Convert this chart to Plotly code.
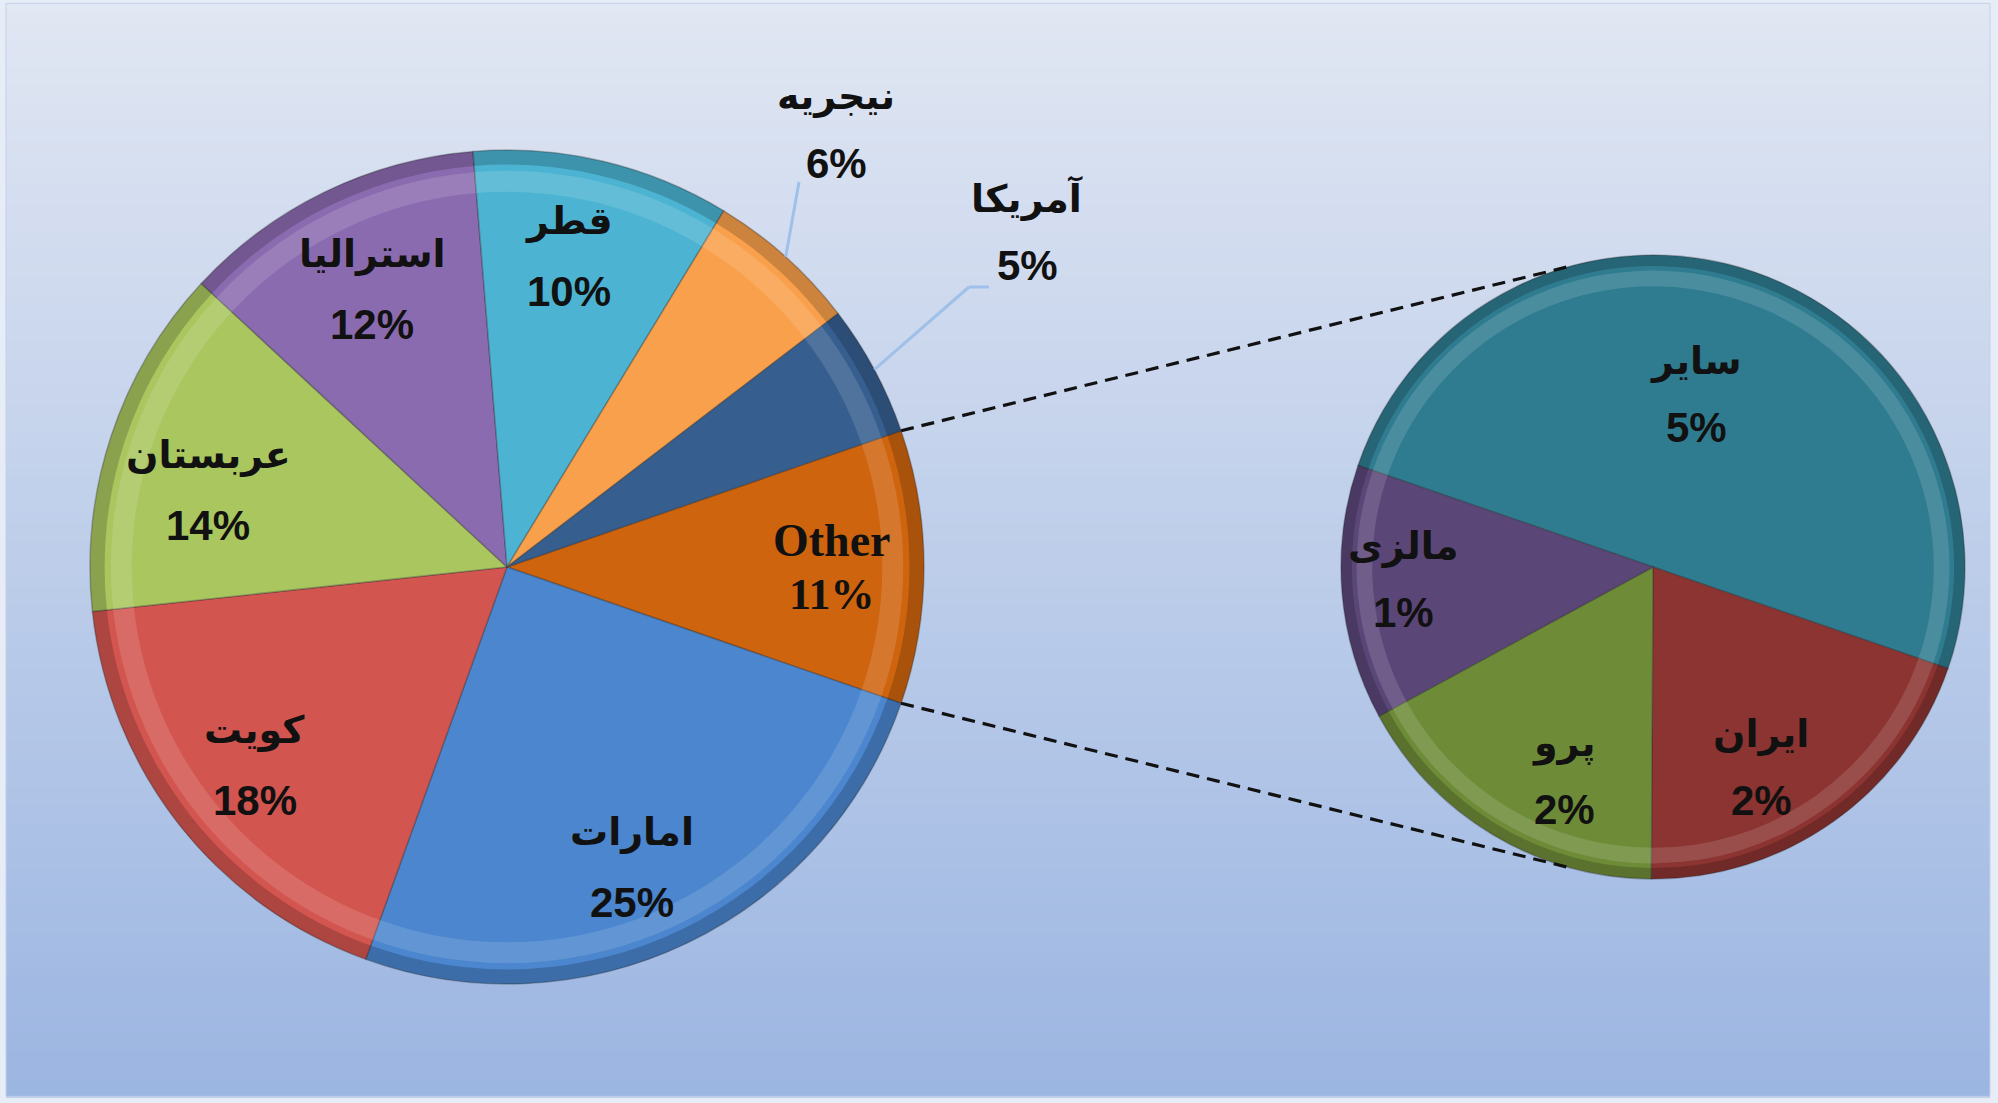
import math
import plotly.graph_objects as go

W, H = 1998, 1103

# 主饼图数据（顺时针，从 Other 开始）
main_labels = ["Other", "امارات", "کویت", "عربستان", "استرالیا", "قطر", "نیجریه", "آمریکا"]
main_values_rest = [25.2, 17.8, 13.6, 11.8, 10.0, 5.9, 5.1]
main_colors = ["#cf640f", "#4b86ce", "#d35550", "#a9c65f", "#8b6bb0",
               "#4cb4d2", "#f8a04b", "#365f8f"]

# 子饼图数据（Other 的拆分）
sub_labels = ["سایر", "ایران", "پرو", "مالزی"]
sub_values = [5.3, 2.1, 1.8, 1.4]
sub_colors = ["#2f7c90", "#8c3431", "#6e8c38", "#5b4678"]

main_values = [sum(sub_values)] + main_values_rest
total = sum(main_values)

# 几何参数（像素）
L_CX, L_CY, L_R = 507, 567, 417
R_CX, R_CY, R_R = 1653, 567, 312
SUB_ROT = 289

FONT_FA = "DejaVu Sans"
FONT_NUM = "Liberation Sans"

# 标签位置微调：(半径比例, 角度偏移)
main_lab_pos = {"Other": (0.78, 0), "امارات": (0.78, 3), "کویت": (0.77, 0),
                "عربستان": (0.74, -4), "استرالیا": (0.74, 0), "قطر": (0.76, -2)}
sub_lab_pos = [(0.57, -5), (0.73, 7), (0.73, -8), (0.8, 2)]


def px2paper(x, y):
    return x / W, 1 - y / H


def domain(cx, cy, r):
    return dict(x=[(cx - r) / W, (cx + r) / W], y=[1 - (cy + r) / H, 1 - (cy - r) / H])


def pct(v):
    return f"{int(v / total * 100 + 0.5)}%"


def mid_angles(values, rotation):
    s = sum(values)
    out, acc = [], rotation
    for v in values:
        span = v / s * 360
        out.append(acc + span / 2)
        acc += span
    return out


def pie_layers(values, colors, cx, cy, r, rotation):
    traces = []
    common = dict(values=values, sort=False, direction="clockwise", rotation=rotation,
                  textinfo="none", hoverinfo="skip", showlegend=False)
    traces.append(go.Pie(domain=domain(cx, cy, r), marker=dict(colors=colors,
                  line=dict(color="rgba(40,40,40,0.3)", width=1.5)), **common))
    # 高光环
    r2 = r * 0.95
    traces.append(go.Pie(domain=domain(cx, cy, r2), hole=0.90 / 0.95,
                  marker=dict(colors=["rgba(255,255,255,0.13)"] * len(values),
                              line=dict(width=0)), **common))
    # 外缘暗边
    traces.append(go.Pie(domain=domain(cx, cy, r), hole=0.965,
                  marker=dict(colors=["rgba(0,0,0,0.18)"] * len(values),
                              line=dict(width=0)), **common))
    return traces


main_rot = 90 - 180 * main_values[0] / total

fig = go.Figure()
for t in pie_layers(main_values, main_colors, L_CX, L_CY, L_R, main_rot):
    fig.add_trace(t)
for t in pie_layers(sub_values, sub_colors, R_CX, R_CY, R_R, SUB_ROT):
    fig.add_trace(t)

annotations = []


def add_label(name, value, x, y, serif=False, gap=35):
    fam = "Liberation Serif" if serif else FONT_FA
    nx, ny = px2paper(x, y - gap)
    annotations.append(dict(x=nx, y=ny, xref="paper", yref="paper", text=f"<b>{name}</b>",
                            xanchor="center", yanchor="middle", showarrow=False,
                            font=dict(family=fam, size=46 if serif else 38, color="#111111")))
    vx, vy = px2paper(x, y + gap)
    annotations.append(dict(x=vx, y=vy, xref="paper", yref="paper", text=f"<b>{pct(value)}</b>",
                            xanchor="center", yanchor="middle", showarrow=False,
                            font=dict(family="Liberation Serif" if serif else FONT_NUM,
                                      size=44 if serif else 42, color="#111111")))


# 主饼图标签
outside = {"نیجریه": (836, 130), "آمریکا": (1027, 232)}
leader_end = {"نیجریه": [(799, 182)], "آمریکا": [(969, 287), (989, 287)]}
shapes = []
for lab, v, a in zip(main_labels, main_values, mid_angles(main_values, main_rot)):
    rad = math.radians(a)
    if lab in outside:
        ox, oy = outside[lab]
        add_label(lab, v, ox, oy, gap=34)
        pts = [(L_CX + L_R * math.sin(rad), L_CY - L_R * math.cos(rad))] + leader_end[lab]
        for (x0, y0), (x1, y1) in zip(pts[:-1], pts[1:]):
            a0, b0 = px2paper(x0, y0)
            a1, b1 = px2paper(x1, y1)
            shapes.append(dict(type="line", xref="paper", yref="paper", x0=a0, y0=b0, x1=a1, y1=b1,
                               line=dict(color="#9fc0e8", width=3)))
        continue
    fr, da = main_lab_pos[lab]
    rad = math.radians(a + da)
    x = L_CX + fr * L_R * math.sin(rad)
    y = L_CY - fr * L_R * math.cos(rad)
    add_label(lab, v, x, y, serif=(lab == "Other"), gap=27 if lab == "Other" else 35)

# 子饼图标签
for lab, v, a, (fr, da) in zip(sub_labels, sub_values, mid_angles(sub_values, SUB_ROT), sub_lab_pos):
    rad = math.radians(a + da)
    x = R_CX + fr * R_R * math.sin(rad)
    y = R_CY - fr * R_R * math.cos(rad)
    add_label(lab, v, x, y, gap=33)

# 连接虚线
o_start = main_rot
o_end = main_rot + main_values[0] / total * 360
for la, ra in [(o_start, -15.5), (o_end, 195.5)]:
    x0 = L_CX + L_R * math.sin(math.radians(la))
    y0 = L_CY - L_R * math.cos(math.radians(la))
    x1 = R_CX + R_R * math.sin(math.radians(ra))
    y1 = R_CY - R_R * math.cos(math.radians(ra))
    a0, b0 = px2paper(x0, y0)
    a1, b1 = px2paper(x1, y1)
    shapes.append(dict(type="line", xref="paper", yref="paper", x0=a0, y0=b0, x1=a1, y1=b1,
                       line=dict(color="#111111", width=3.2, dash="13px,8px")))

# 背景渐变
top, bot = (225, 231, 243), (156, 182, 226)
n = 120
y_lo, y_hi = 0.006, 0.997
bg = []
for i in range(n):
    t = i / (n - 1)
    c = tuple(int(top[k] + (bot[k] - top[k]) * t) for k in range(3))
    yy1 = y_hi - (y_hi - y_lo) * i / n
    yy0 = y_hi - (y_hi - y_lo) * (i + 1) / n
    bg.append(dict(type="rect", xref="paper", yref="paper", x0=0.003, x1=0.996,
                   y0=yy0 - 0.001, y1=yy1, layer="below", line=dict(width=0),
                   fillcolor=f"rgb{c}"))
bg.append(dict(type="rect", xref="paper", yref="paper", x0=0.003, x1=0.996, y0=y_lo, y1=y_hi,
               layer="below", line=dict(color="#c3d1e8", width=1), fillcolor="rgba(0,0,0,0)"))

fig.update_layout(
    width=W, height=H,
    margin=dict(l=0, r=0, t=0, b=0),
    paper_bgcolor="#e6edf7",
    plot_bgcolor="rgba(0,0,0,0)",
    showlegend=False,
    shapes=bg + shapes,
    annotations=annotations,
)

# 去掉页面默认边距，让图从左上角开始
fig.write_html("out.html", config={"displayModeBar": False},
               post_script="document.body.style.margin='0';")
